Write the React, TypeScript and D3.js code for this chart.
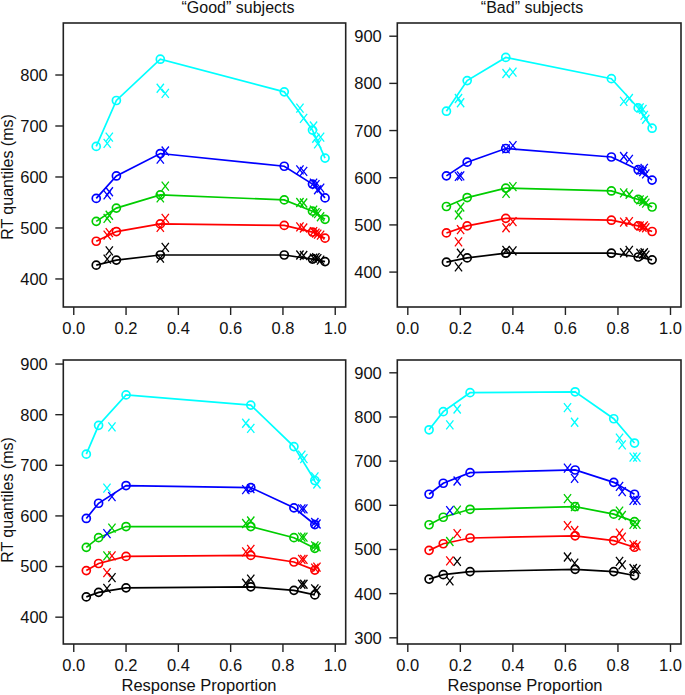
import React from "react";
import * as d3 from "d3";

// ---------- DATA ----------
const quantileColors = ["#000000", "#ff0000", "#00cd00", "#0000ff", "#00ffff"];
const xTicks = [0, 0.2, 0.4, 0.6, 0.8, 1.0];

// Panel 1: "Good" subjects (top)
const predP1 = [0.086, 0.163, 0.331, 0.805, 0.913, 0.961];
const predRT1 = [
  [427, 437, 447, 447, 439, 434],
  [474, 493, 508, 505, 492, 480],
  [513, 539, 565, 555, 533, 517],
  [558, 602, 646, 621, 586, 559],
  [660, 750, 831, 767, 692, 637],
];
const obsP1 = [0.128, 0.136, 0.331, 0.35, 0.865, 0.879, 0.917, 0.926, 0.933, 0.944];
const obsRT1 = [
  [439, 455, 441, 462, 447, 446, 441, 442, 440, 437],
  [486, 491, 501, 519, 502, 500, 493, 490, 488, 486],
  [519, 525, 559, 582, 550, 549, 535, 530, 528, 522],
  [565, 571, 635, 651, 614, 611, 588, 585, 575, 578],
  [666, 678, 774, 764, 735, 715, 700, 676, 665, 678],
];
const yTicks1 = [400, 500, 600, 700, 800];

// Panel 2: "Bad" subjects (top)
const predP2 = [0.147, 0.226, 0.373, 0.775, 0.877, 0.93];
const predRT2 = [
  [421, 430, 440, 440, 432, 426],
  [483, 498, 514, 510, 498, 486],
  [539, 558, 578, 572, 554, 538],
  [604, 633, 662, 644, 617, 595],
  [741, 806, 855, 810, 748, 705],
];
const obsP2 = [0.193, 0.201, 0.374, 0.4, 0.822, 0.843, 0.884, 0.895, 0.9, 0.906];
const obsRT2 = [
  [411, 440, 446, 445, 441, 446, 440, 438, 441, 436],
  [464, 490, 494, 507, 506, 507, 498, 495, 498, 494],
  [521, 538, 567, 581, 568, 565, 553, 550, 552, 546],
  [603, 604, 661, 668, 645, 639, 616, 613, 620, 608],
  [768, 759, 821, 824, 762, 768, 748, 745, 732, 724],
];
const yTicks2 = [400, 500, 600, 700, 800, 900];

// Panel 3: "Good" subjects (bottom)
const predP3 = [0.048, 0.095, 0.2, 0.677, 0.842, 0.922];
const predRT3 = [
  [440, 449, 458, 460, 453, 444],
  [492, 506, 520, 522, 509, 493],
  [538, 557, 579, 579, 557, 536],
  [595, 625, 660, 656, 616, 583],
  [722, 779, 839, 819, 737, 670],
];
const obsP3 = [0.127, 0.146, 0.658, 0.677, 0.872, 0.88, 0.922, 0.93];
const obsRT3 = [
  [457, 478, 467, 475, 465, 465, 456, 453],
  [488, 521, 529, 534, 514, 514, 497, 499],
  [521, 576, 585, 590, 558, 558, 541, 539],
  [565, 638, 652, 654, 614, 614, 587, 584],
  [655, 776, 783, 773, 720, 713, 677, 663],
];
const yTicks3 = [400, 500, 600, 700, 800, 900];

// Panel 4: "Bad" subjects (bottom)
const predP4 = [0.081, 0.135, 0.237, 0.637, 0.784, 0.863];
const predRT4 = [
  [433, 443, 450, 455, 450, 441],
  [498, 513, 526, 531, 520, 505],
  [556, 573, 591, 597, 580, 563],
  [625, 650, 674, 680, 652, 625],
  [771, 812, 855, 857, 796, 741],
];
const obsP4 = [0.16, 0.188, 0.608, 0.635, 0.806, 0.816, 0.858, 0.872];
const obsRT4 = [
  [429, 473, 483, 469, 473, 465, 457, 455],
  [474, 536, 554, 543, 537, 528, 511, 508],
  [518, 589, 615, 597, 587, 577, 557, 557],
  [588, 655, 684, 661, 643, 631, 611, 611],
  [782, 818, 821, 788, 752, 737, 709, 709],
];
const yTicks4 = [300, 400, 500, 600, 700, 800, 900];

const titles = ["\u201CGood\u201D subjects", "\u201CBad\u201D subjects"];
const yAxisTitle = "RT quantiles (ms)";
const xAxisTitle = "Response Proportion";

// ---------- LAYOUT ----------
const FONT = "'Liberation Sans', Arial, Helvetica, sans-serif";
const FS = 16.5;

type PanelDef = {
  left: number; right: number; top: number; bottom: number;
  yDomain: [number, number];
  yTicks: number[];
  predP: number[]; predRT: number[][];
  obsP: number[]; obsRT: number[][];
};

const panels: PanelDef[] = [
  { left: 63.3, right: 345.7, top: 23, bottom: 307, yDomain: [345, 902], yTicks: yTicks1, predP: predP1, predRT: predRT1, obsP: obsP1, obsRT: obsRT1 },
  { left: 397.3, right: 681, top: 23, bottom: 307, yDomain: [326, 928], yTicks: yTicks2, predP: predP2, predRT: predRT2, obsP: obsP2, obsRT: obsRT2 },
  { left: 63.3, right: 345.7, top: 360, bottom: 644, yDomain: [347, 908], yTicks: yTicks3, predP: predP3, predRT: predRT3, obsP: obsP3, obsRT: obsRT3 },
  { left: 397.3, right: 681, top: 360, bottom: 644, yDomain: [286, 929], yTicks: yTicks4, predP: predP4, predRT: predRT4, obsP: obsP4, obsRT: obsRT4 },
];

function Panel({ p }: { p: PanelDef }) {
  const x = d3.scaleLinear().domain([-0.04, 1.04]).range([p.left, p.right]);
  const y = d3.scaleLinear().domain(p.yDomain).range([p.bottom, p.top]);
  const line = d3
    .line<[number, number]>()
    .x((d) => x(d[0]))
    .y((d) => y(d[1]));
  const tickLen = 8;
  return (
    <g>
      {p.predRT.map((row, qi) => {
        const pts = p.predP.map((pp, i) => [pp, row[i]] as [number, number]);
        return (
          <g key={"pred" + qi}>
            <path d={line(pts) || ""} fill="none" stroke={quantileColors[qi]} strokeWidth={1.7} />
            {pts.map((d, i) => (
              <circle key={i} cx={x(d[0])} cy={y(d[1])} r={4} fill="none" stroke={quantileColors[qi]} strokeWidth={1.7} />
            ))}
          </g>
        );
      })}
      {p.obsRT.map((row, qi) => (
        <g key={"obs" + qi} stroke={quantileColors[qi]} strokeWidth={1.3} fill="none">
          {p.obsP.map((pp, i) => {
            const cx = x(pp);
            const cy = y(row[i]);
            return (
              <path
                key={i}
                d={`M${cx - 3.6},${cy - 4.5}L${cx + 3.6},${cy + 4.5}M${cx + 3.6},${cy - 4.5}L${cx - 3.6},${cy + 4.5}`}
              />
            );
          })}
        </g>
      ))}
      <rect x={p.left} y={p.top} width={p.right - p.left} height={p.bottom - p.top} fill="none" stroke="#222" strokeWidth={1.6} />
      {xTicks.map((t) => (
        <g key={"xt" + t}>
          <line x1={x(t)} x2={x(t)} y1={p.bottom} y2={p.bottom + tickLen} stroke="#222" strokeWidth={1.4} />
          <text x={x(t)} y={p.bottom + 27} textAnchor="middle" fontFamily={FONT} fontSize={FS} fill="#111">
            {d3.format(".1f")(t)}
          </text>
        </g>
      ))}
      {p.yTicks.map((t) => (
        <g key={"yt" + t}>
          <line x1={p.left - tickLen} x2={p.left} y1={y(t)} y2={y(t)} stroke="#222" strokeWidth={1.4} />
          <text x={p.left - 15.5} y={y(t)} dy="0.36em" textAnchor="end" fontFamily={FONT} fontSize={FS} fill="#111">
            {t}
          </text>
        </g>
      ))}
    </g>
  );
}

export default function App() {
  return (
    <svg
      width={685}
      height={695}
      style={{ position: "absolute", left: 0, top: 0, background: "#fff" }}
    >
      <rect x={0} y={0} width={685} height={695} fill="#fff" />
      {panels.map((p, i) => (
        <Panel key={i} p={p} />
      ))}
      <text x={238} y={13} textAnchor="middle" fontFamily={FONT} fontSize={FS - 0.5} fill="#111">
        {titles[0]}
      </text>
      <text x={532} y={13} textAnchor="middle" fontFamily={FONT} fontSize={FS - 0.5} fill="#111">
        {titles[1]}
      </text>
      <text transform="translate(13,177) rotate(-90)" textAnchor="middle" fontFamily={FONT} fontSize={FS - 0.5} fill="#111">
        {yAxisTitle}
      </text>
      <text transform="translate(13,500) rotate(-90)" textAnchor="middle" fontFamily={FONT} fontSize={FS - 0.5} fill="#111">
        {yAxisTitle}
      </text>
      <text x={199} y={691} textAnchor="middle" fontFamily={FONT} fontSize={FS} fill="#111">
        {xAxisTitle}
      </text>
      <text x={525} y={691} textAnchor="middle" fontFamily={FONT} fontSize={FS} fill="#111">
        {xAxisTitle}
      </text>
    </svg>
  );
}
